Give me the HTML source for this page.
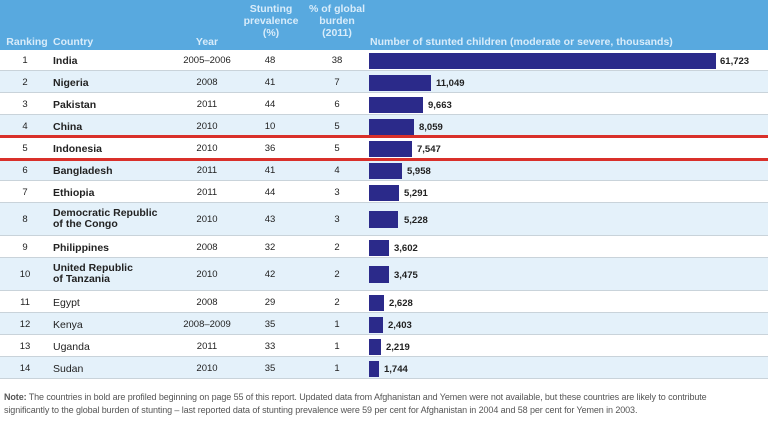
<!DOCTYPE html>
<html><head><meta charset="utf-8"><style>
*{margin:0;padding:0}
body{width:768px;height:428px;background:#fff;position:relative;overflow:hidden;font-family:"Liberation Sans",sans-serif;color:#222}
.hdr{position:absolute;left:0;top:0;width:768px;height:50px;background:#58a9df}
.h{position:absolute;color:#d8ecfa;font-size:10.5px;font-weight:bold;text-align:center;line-height:12px}
.r{position:absolute;left:0;width:768px;border-bottom:1px solid #c9d3da;box-sizing:border-box}
.a{background:#fff}.b{background:#e4f1fa}
.c{position:absolute;font-size:9.5px;line-height:10px;text-align:center}
.n{position:absolute;font-size:10.5px;line-height:11px;font-weight:bold;left:53px}
.n.l{font-weight:normal}
.bar{position:absolute;left:369px;background:#2b2a8a}
.v{position:absolute;font-size:9.5px;font-weight:bold}
.red{position:absolute;left:0;width:768px;height:3px;background:#d9302a}
.note{position:absolute;left:4px;font-size:9px;color:#555;white-space:nowrap;letter-spacing:-0.1px}
</style></head><body>
<div class="hdr"></div>
<div class="h" style="left:2px;top:36px;width:50px">Ranking</div>
<div class="h" style="left:53px;top:36px;text-align:left">Country</div>
<div class="h" style="left:185px;top:36px;width:44px">Year</div>
<div class="h" style="left:236px;top:3px;width:70px">Stunting<br>prevalence<br>(%)</div>
<div class="h" style="left:306px;top:3px;width:62px">% of global<br>burden<br>(2011)</div>
<div class="h" style="left:370px;top:36px;text-align:left">Number of stunted children (moderate or severe, thousands)</div>

<div class="r a" style="top:50px;height:21px"></div>
<div class="r b" style="top:71px;height:22px"></div>
<div class="r a" style="top:93px;height:22px"></div>
<div class="r b" style="top:115px;height:22px"></div>
<div class="r a" style="top:137px;height:22px"></div>
<div class="r b" style="top:159px;height:22px"></div>
<div class="r a" style="top:181px;height:22px"></div>
<div class="r b" style="top:203px;height:33px"></div>
<div class="r a" style="top:236px;height:22px"></div>
<div class="r b" style="top:258px;height:33px"></div>
<div class="r a" style="top:291px;height:22px"></div>
<div class="r b" style="top:313px;height:22px"></div>
<div class="r a" style="top:335px;height:22px"></div>
<div class="r b" style="top:357px;height:22px"></div>

<div class="c" style="left:10px;width:30px;top:56px">1</div><div class="n" style="top:56px">India</div><div class="c" style="left:180px;width:54px;top:56px">2005–2006</div><div class="c" style="left:255px;width:30px;top:56px">48</div><div class="c" style="left:322px;width:30px;top:56px">38</div><div class="bar" style="top:53px;height:16px;width:347px"></div><div class="v" style="left:720px;top:56px">61,723</div>
<div class="c" style="left:10px;width:30px;top:78px">2</div><div class="n" style="top:78px">Nigeria</div><div class="c" style="left:180px;width:54px;top:78px">2008</div><div class="c" style="left:255px;width:30px;top:78px">41</div><div class="c" style="left:322px;width:30px;top:78px">7</div><div class="bar" style="top:75px;height:16px;width:62px"></div><div class="v" style="left:436px;top:78px">11,049</div>
<div class="c" style="left:10px;width:30px;top:100px">3</div><div class="n" style="top:100px">Pakistan</div><div class="c" style="left:180px;width:54px;top:100px">2011</div><div class="c" style="left:255px;width:30px;top:100px">44</div><div class="c" style="left:322px;width:30px;top:100px">6</div><div class="bar" style="top:97px;height:16px;width:54px"></div><div class="v" style="left:428px;top:100px">9,663</div>
<div class="c" style="left:10px;width:30px;top:122px">4</div><div class="n" style="top:122px">China</div><div class="c" style="left:180px;width:54px;top:122px">2010</div><div class="c" style="left:255px;width:30px;top:122px">10</div><div class="c" style="left:322px;width:30px;top:122px">5</div><div class="bar" style="top:119px;height:16px;width:45px"></div><div class="v" style="left:419px;top:122px">8,059</div>
<div class="c" style="left:10px;width:30px;top:144px">5</div><div class="n" style="top:144px">Indonesia</div><div class="c" style="left:180px;width:54px;top:144px">2010</div><div class="c" style="left:255px;width:30px;top:144px">36</div><div class="c" style="left:322px;width:30px;top:144px">5</div><div class="bar" style="top:141px;height:16px;width:43px"></div><div class="v" style="left:417px;top:144px">7,547</div>
<div class="c" style="left:10px;width:30px;top:166px">6</div><div class="n" style="top:166px">Bangladesh</div><div class="c" style="left:180px;width:54px;top:166px">2011</div><div class="c" style="left:255px;width:30px;top:166px">41</div><div class="c" style="left:322px;width:30px;top:166px">4</div><div class="bar" style="top:163px;height:16px;width:33px"></div><div class="v" style="left:407px;top:166px">5,958</div>
<div class="c" style="left:10px;width:30px;top:188px">7</div><div class="n" style="top:188px">Ethiopia</div><div class="c" style="left:180px;width:54px;top:188px">2011</div><div class="c" style="left:255px;width:30px;top:188px">44</div><div class="c" style="left:322px;width:30px;top:188px">3</div><div class="bar" style="top:185px;height:16px;width:30px"></div><div class="v" style="left:404px;top:188px">5,291</div>
<div class="c" style="left:10px;width:30px;top:215px">8</div><div class="n" style="top:208px">Democratic Republic<br>of the Congo</div><div class="c" style="left:180px;width:54px;top:215px">2010</div><div class="c" style="left:255px;width:30px;top:215px">43</div><div class="c" style="left:322px;width:30px;top:215px">3</div><div class="bar" style="top:211px;height:17px;width:29px"></div><div class="v" style="left:404px;top:215px">5,228</div>
<div class="c" style="left:10px;width:30px;top:243px">9</div><div class="n" style="top:243px">Philippines</div><div class="c" style="left:180px;width:54px;top:243px">2008</div><div class="c" style="left:255px;width:30px;top:243px">32</div><div class="c" style="left:322px;width:30px;top:243px">2</div><div class="bar" style="top:240px;height:16px;width:20px"></div><div class="v" style="left:394px;top:243px">3,602</div>
<div class="c" style="left:10px;width:30px;top:270px">10</div><div class="n" style="top:263px">United Republic<br>of Tanzania</div><div class="c" style="left:180px;width:54px;top:270px">2010</div><div class="c" style="left:255px;width:30px;top:270px">42</div><div class="c" style="left:322px;width:30px;top:270px">2</div><div class="bar" style="top:266px;height:17px;width:20px"></div><div class="v" style="left:394px;top:270px">3,475</div>
<div class="c" style="left:10px;width:30px;top:298px">11</div><div class="n l" style="top:298px">Egypt</div><div class="c" style="left:180px;width:54px;top:298px">2008</div><div class="c" style="left:255px;width:30px;top:298px">29</div><div class="c" style="left:322px;width:30px;top:298px">2</div><div class="bar" style="top:295px;height:16px;width:15px"></div><div class="v" style="left:389px;top:298px">2,628</div>
<div class="c" style="left:10px;width:30px;top:320px">12</div><div class="n l" style="top:320px">Kenya</div><div class="c" style="left:180px;width:54px;top:320px">2008–2009</div><div class="c" style="left:255px;width:30px;top:320px">35</div><div class="c" style="left:322px;width:30px;top:320px">1</div><div class="bar" style="top:317px;height:16px;width:14px"></div><div class="v" style="left:388px;top:320px">2,403</div>
<div class="c" style="left:10px;width:30px;top:342px">13</div><div class="n l" style="top:342px">Uganda</div><div class="c" style="left:180px;width:54px;top:342px">2011</div><div class="c" style="left:255px;width:30px;top:342px">33</div><div class="c" style="left:322px;width:30px;top:342px">1</div><div class="bar" style="top:339px;height:16px;width:12px"></div><div class="v" style="left:386px;top:342px">2,219</div>
<div class="c" style="left:10px;width:30px;top:364px">14</div><div class="n l" style="top:364px">Sudan</div><div class="c" style="left:180px;width:54px;top:364px">2010</div><div class="c" style="left:255px;width:30px;top:364px">35</div><div class="c" style="left:322px;width:30px;top:364px">1</div><div class="bar" style="top:361px;height:16px;width:10px"></div><div class="v" style="left:384px;top:364px">1,744</div>

<div class="red" style="top:135px"></div>
<div class="red" style="top:158px"></div>

<div class="note" style="top:392px"><b>Note:</b> The countries in bold are profiled beginning on page 55 of this report. Updated data from Afghanistan and Yemen were not available, but these countries are likely to contribute</div>
<div class="note" style="top:405px">significantly to the global burden of stunting – last reported data of stunting prevalence were 59 per cent for Afghanistan in 2004 and 58 per cent for Yemen in 2003.</div>
</body></html>
